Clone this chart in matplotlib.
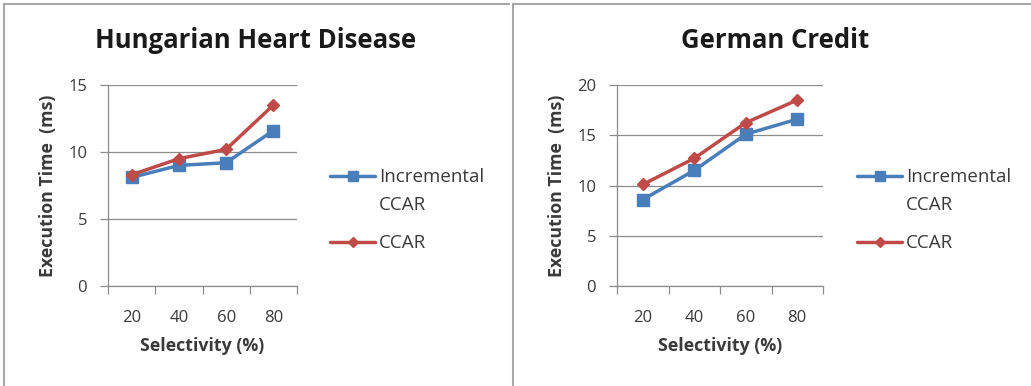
import matplotlib
matplotlib.use("Agg")
import matplotlib.pyplot as plt
from matplotlib.lines import Line2D

# Data
selectivity = ["20", "40", "60", "80"]
hungarian_incremental = [8.1, 9.0, 9.2, 11.6]
hungarian_ccar = [8.3, 9.5, 10.2, 13.5]
german_incremental = [8.6, 11.5, 15.1, 16.6]
german_ccar = [10.1, 12.7, 16.25, 18.5]
hungarian_yticks = [0, 5, 10, 15]
german_yticks = [0, 5, 10, 15, 20]
titles = ["Hungarian Heart Disease", "German Credit"]
series_labels = ["Incremental\nCCAR", "CCAR"]

W, H = 1031, 386
plt.rcParams["font.family"] = ["Open Sans", "DejaVu Sans"]

BLUE = "#4A7EBB"
RED = "#BE4B48"
GRID = "#8C8C8C"
TXT = "#3A3A3A"

fig = plt.figure(figsize=(W / 100, H / 100), dpi=100)


def px_axes(left, top, right, bottom):
    return fig.add_axes([left / W, 1 - bottom / H, (right - left) / W, (bottom - top) / H])


def draw_panel(ax, inc, ccar, yticks, title, title_x, ylabel_x, legend_x):
    x = list(range(1, len(selectivity) + 1))
    ax.plot(x, inc, color=BLUE, lw=2.5, marker="s", ms=8.5, label=series_labels[0],
            solid_capstyle="round", zorder=3)
    ax.plot(x, ccar, color=RED, lw=2.5, marker="D", ms=6.5, label=series_labels[1],
            solid_capstyle="round", zorder=4)
    ax.set_xlim(0.5, len(x) + 0.5)
    ax.set_ylim(yticks[0], yticks[-1])
    ax.set_yticks(yticks)
    ax.set_xticks(x)
    ax.set_xticklabels(selectivity)
    ax.set_xticks([i + 0.5 for i in range(len(x) + 1)], minor=True)
    ax.tick_params(axis="x", which="major", length=0, pad=17, labelsize=12, labelcolor=TXT)
    ax.tick_params(axis="x", which="minor", length=6, width=0.9, color=GRID, direction="out")
    ax.tick_params(axis="y", length=6, width=0.9, color=GRID, pad=9, labelsize=12, labelcolor=TXT)
    ax.yaxis.grid(True, color=GRID, lw=0.9)
    ax.set_axisbelow(True)
    for s in ("top", "right"):
        ax.spines[s].set_visible(False)
    for s in ("left", "bottom"):
        ax.spines[s].set_color(GRID)
        ax.spines[s].set_linewidth(0.9)
    ax.set_xlabel("Selectivity (%)", fontsize=12.8, fontweight="bold", color=TXT, labelpad=8)
    ax.set_ylabel("Execution Time  (ms)", fontsize=12.8, fontweight="bold", color=TXT, va="center")
    bb = ax.get_position()
    ax.yaxis.set_label_coords((ylabel_x / W - bb.x0) / bb.width, 0.5)
    fig.text(title_x / W, 1 - 41 / H, title, ha="center", va="center",
             fontsize=18.5, fontweight="bold", color="#1A1A1A")
    leg = ax.legend(loc="upper left", bbox_to_anchor=(legend_x / W, 1 - 168 / H),
                    bbox_transform=fig.transFigure, frameon=False, fontsize=13.5,
                    handlelength=2.4, handletextpad=0.2, labelspacing=1.1,
                    borderaxespad=0, borderpad=0, handleheight=1.2, markerscale=0.85)
    for t in leg.get_texts():
        t.set_color(TXT)
        t.set_linespacing(1.7)
    # keep each legend line next to the first line of its label
    for column in leg._legend_handle_box.get_children():
        for row in column.get_children():
            row.align = "top"


ax1 = px_axes(108, 85, 297, 286)
draw_panel(ax1, hungarian_incremental, hungarian_ccar, hungarian_yticks, titles[0], 256, 48, 330)

ax2 = px_axes(617, 85, 823, 286)
draw_panel(ax2, german_incremental, german_ccar, german_yticks, titles[1], 775, 557, 857)

# Panel frames
frame = dict(color="#A8A8A8", lw=1.5, transform=fig.transFigure)
fig.add_artist(Line2D([4 / W, 509 / W], [1 - 4 / H, 1 - 4 / H], **frame))
fig.add_artist(Line2D([4 / W, 4 / W], [1 - 4 / H, 0], **frame))
fig.add_artist(Line2D([513 / W, 1], [1 - 4 / H, 1 - 4 / H], **frame))
fig.add_artist(Line2D([513 / W, 513 / W], [1 - 4 / H, 0], **frame))

fig.savefig("out.png", dpi=100)
